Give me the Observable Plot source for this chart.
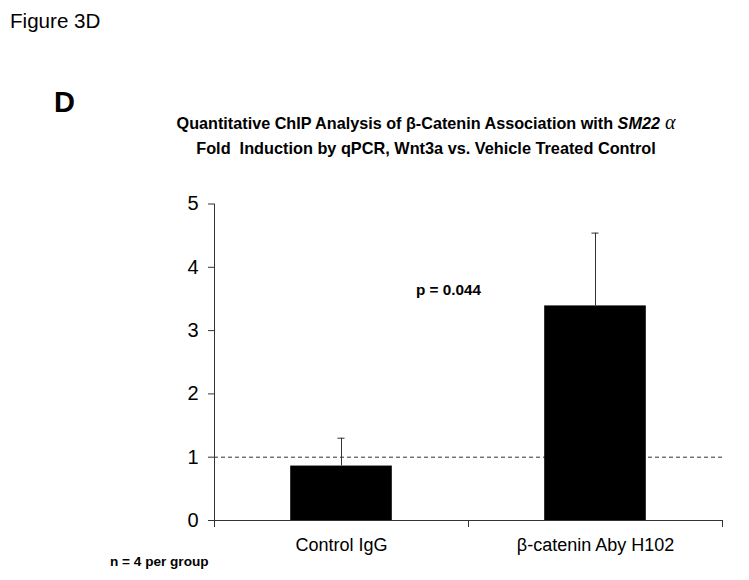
<!DOCTYPE html>
<html><head><meta charset="utf-8">
<script src="https://cdn.jsdelivr.net/npm/d3@7"></script>
<script src="https://cdn.jsdelivr.net/npm/@observablehq/plot@0.6"></script>
<style>
body{margin:0;background:#fff;}
#wrap{position:relative;width:749px;height:580px;font-family:"Liberation Sans",Arial,sans-serif;color:#000;}
#wrap svg{position:absolute;left:0;top:0;}
.t{position:absolute;line-height:1;white-space:pre;z-index:2;}
.c{text-align:center;left:-322px;width:1496px;}
</style></head><body>
<div id="wrap">
<div class="t" style="left:10px;top:11px;font-size:20.6px">Figure 3D</div>
<div class="t" style="left:54px;top:88px;font-size:29px;font-weight:bold">D</div>
<div class="t c" style="top:112px;font-size:16.2px;font-weight:bold">Quantitative ChIP Analysis of β-Catenin Association with <i>SM22</i><span style="font-family:'Liberation Serif',serif;font-style:italic;font-weight:normal;font-size:20px"> α</span></div>
<div class="t c" style="top:140px;font-size:16.3px;font-weight:bold">Fold  Induction by qPCR, Wnt3a vs. Vehicle Treated Control</div>
<div class="t" style="left:416px;top:282px;font-size:15.3px;font-weight:bold">p = 0.044</div>
<div class="t" style="left:110px;top:555px;font-size:13.6px;font-weight:bold">n = 4 per group</div>
</div>
<script>
const categories = ["Control IgG", "β-catenin Aby H102"];
const means = [0.86, 3.39];
const errors = [0.44, 1.15];
const yTicks = [0, 1, 2, 3, 4, 5];
const referenceLevel = 1;

const barWidth = 0.4;
const capHalf = 0.014;
const data = categories.map((c, i) => ({category: c, pos: i + 0.5, mean: means[i], upper: means[i] + errors[i]}));
const boundaries = d3.range(categories.length + 1);

const chart = Plot.plot({
  width: 749,
  height: 580,
  marginLeft: 214,
  marginRight: 27,
  marginTop: 203.5,
  marginBottom: 60,
  style: {fontFamily: '"Liberation Sans", Arial, sans-serif', fontSize: "18px", background: "transparent", color: "#000"},
  x: {domain: [0, categories.length], axis: null},
  y: {domain: [0, 5], axis: null},
  marks: [
    Plot.ruleY([referenceLevel], {stroke: "#333", strokeDasharray: "4,3"}),
    Plot.rectY(data, {x1: d => d.pos - barWidth / 2, x2: d => d.pos + barWidth / 2, y1: 0, y2: "mean", fill: "#000"}),
    Plot.ruleX(data, {x: "pos", y1: "mean", y2: "upper", stroke: "#333"}),
    Plot.ruleY(data, {y: "upper", x1: d => d.pos - capHalf, x2: d => d.pos + capHalf, stroke: "#333"}),
    Plot.ruleX([0], {y1: 0, y2: 5, stroke: "#333"}),
    Plot.ruleY([0], {stroke: "#333"}),
    Plot.axisY({ticks: yTicks, tickSize: 6, tickPadding: 10, fontSize: 20, stroke: "#333", fill: "#000", tickFormat: d3.format("d"), label: null}),
    Plot.axisX({ticks: boundaries, tickSize: 7, tickFormat: () => "", stroke: "#333", label: null}),
    Plot.axisX({ticks: data.map(d => d.pos), tickSize: 0, tickPadding: 18, fontSize: 18, fill: "#000", tickFormat: d => categories[Math.floor(d)], label: null})
  ]
});
document.getElementById("wrap").prepend(chart);
</script>
</body></html>
